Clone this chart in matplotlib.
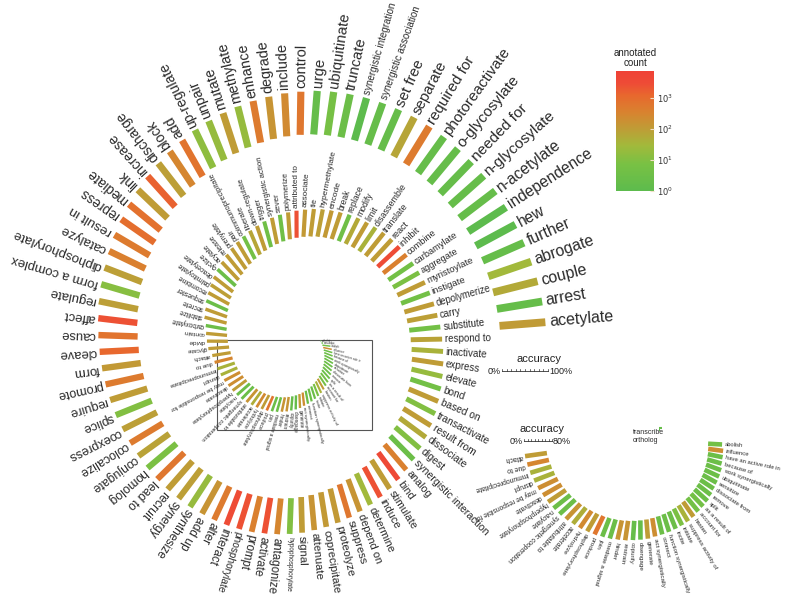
import numpy as np
import matplotlib.pyplot as plt
from matplotlib.colors import LinearSegmentedColormap, LogNorm
from matplotlib.cm import ScalarMappable
from matplotlib.patches import Rectangle

plt.rcParams['font.family'] = ['Liberation Sans', 'DejaVu Sans']

W, H = 796, 595
PT = 0.72  # points per pixel at dpi 100

# ---- outer turn of the spiral (sorted by accuracy, then name) ----
outer_labels = ['acetylate', 'arrest', 'couple', 'abrogate', 'further', 'hew', 'independence',
                'n-acetylate', 'n-glycosylate', 'needed for', 'o-glycosylate', 'photoreactivate',
                'required for', 'separate', 'set free', 'synergistic association',
                'synergistic integration', 'truncate', 'ubiquitinate', 'urge',
                'control', 'include', 'degrade', 'enhance', 'methylate', 'mutate', 'unpair',
                'up-regulate', 'add', 'block', 'discharge', 'increase', 'link', 'mediate',
                'repress', 'result in', 'catalyze', 'diphosphorylate', 'form a complex', 'regulate',
                'affect', 'cause', 'cleave', 'form', 'promote', 'require', 'splice', 'coexpress',
                'colocalize', 'conjugate', 'homolog', 'lead to', 'recruit', 'synergy', 'synthesize',
                'add up', 'alter', 'interact', 'phosphorylate', 'prompt',
                'activate', 'antagonize', 'hypophosphorylate', 'signal', 'attenuate',
                'coprecipitate', 'proteolyze', 'suppress', 'depend on', 'determine', 'induce',
                'stimulate', 'bind', 'analog', 'synergistic interaction', 'digest', 'dissociate',
                'result from', 'transactivate', 'based on',
                'bond', 'elevate', 'express', 'inactivate', 'respond to', 'substitute']
outer_acc = ([100] * 3 + [99] * 17 + [98] * 2 + [97] * 6 + [96] * 8 + [95] * 4 + [94] * 7 +
             [93] * 8 + [92] * 5 + [91] * 4 + [90] * 4 + [89] * 4 + [88.5] + [88] * 2 +
             [87] * 4 + [86] * 7)
outer_count = [110, 2, 60, 30, 2, 1, 1, 2, 2, 2, 2, 2, 500, 70, 2, 2, 1, 3, 6, 2,
               600, 250, 150, 500, 20, 100, 20, 15, 700, 300, 90, 1500, 100, 800, 900, 500, 400, 90, 12, 90,
               2500, 700, 1200, 120, 500, 100, 10, 90, 500, 80, 8, 600, 100, 90, 20, 150, 500, 3000, 2500, 400,
               2500, 300, 10, 100, 150, 120, 120, 600, 150, 30, 2500, 100, 3500, 400, 3, 10, 60, 100, 10, 100,
               5, 20, 100, 40, 80, 5]

# ---- second turn, upper half ----
second_labels = ['carry', 'depolymerize', 'instigate', 'myristoylate', 'aggregate', 'carbamylate',
                 'combine', 'inhibit', 'react', 'translate', 'disassemble', 'limit', 'modify',
                 'replace', 'break', 'encode', 'hypermethylate', 'tie', 'associate', 'attributed to',
                 'polymerize', 'sever', 'synergistic action', 'trigger', 'down-regulate', 'liberate',
                 'coimmunoprecipitate', 'pair', 'prenylate',
                 # left side, too small to read in the original
                 'release', 'acylate', 'cyclize', 'deacetylate', 'palmitoylate', 'recombine',
                 'sequester', 'secrete', 'stabilize', 'carboxylate', 'contain', 'divide', 'glycate']
second_acc = ([85] * 4 + [84] * 6 + [83] * 4 + [82] * 4 + [81] * 6 + [80] * 2 + [79] * 4 +
              [78] * 3 + [77] * 3 + [75] * 2 + [70] * 4)
second_count = [90, 100, 5, 100, 8, 5, 400, 3000, 100, 100, 40, 100, 60, 4, 100, 120, 90, 100,
                120, 2500, 100, 4, 100, 4, 100, 70, 5, 100, 100,
                100, 100, 3, 100, 90, 100, 3, 100, 100, 3, 100, 100, 100]

# ---- second turn, lower half (shown magnified in the inset) ----
inset_labels = ['attach', 'due to', 'immunoprecipitate', 'disrupt', 'may be responsible for',
                'deactivate', 'hyperphosphorylate', 'n-acylate', 'synergetic cooperation',
                'attributable to', 'accelerate', 'hydrolyze', 'dephosphorylate', 'produce', 'join',
                'mediate a signal', 'hinder', 'restrain', 'copurify', 'disengage', 'generate',
                'act synergistically', 'connect', 'function synergistically', 'incite', 'initiate',
                'suppress activity of', 'hasten', 'account for', 'as a result of', 'split', 'remove',
                'dissociate from', 'sensitize', 'ubiquitinate', 'work synergistically', 'because of',
                'have an active role in', 'influence', 'abolish']
inset_acc = ([63] * 3 + [62] * 2 + [61] * 4 + [60] + [59] * 2 + [58] * 2 + [57] * 2 + [56] * 2 +
             [55] * 3 + [53] * 6 + [52] + [50] * 3 + [48] + [46] * 4 + [43] * 3 + [40])
inset_count = [100, 300, 40, 40, 200, 200, 100, 3, 3, 150, 50, 250, 100, 600, 3, 3, 150, 150,
               2, 2, 100, 200, 3, 3, 3, 8, 40, 100, 5, 5, 3, 3, 3, 3, 3, 3, 3, 3, 200, 5]

core_labels = ['transcribe', 'ortholog']
core_acc = [8, 4]
core_count = [2, 1]

# ---- colour scale for the annotated count ----
cmap = LinearSegmentedColormap.from_list('count', [
    (0.0, '#5dbb4d'), (0.22, '#78c144'), (0.38, '#a2b93b'), (0.52, '#bf9c36'),
    (0.66, '#d9822f'), (0.80, '#e8672e'), (0.90, '#ee4b36'), (1.0, '#ef4136')])
norm = LogNorm(vmin=1, vmax=7500)

fig = plt.figure(figsize=(W / 100, H / 100), dpi=100)
ax = fig.add_axes([0, 0, 1, 1])
ax.set_xlim(0, W)
ax.set_ylim(H, 0)
ax.axis('off')


def put_item(cx, cy, ky, r, th, length, lw, fs, gap, count, label):
    t = np.radians(th)
    bx, by = cx + r * np.cos(t), cy - ky * r * np.sin(t)
    phi = np.arctan2(ky * np.sin(t), np.cos(t))
    c, s = np.cos(phi), np.sin(phi)
    ax.plot([bx, bx + length * c], [by, by - length * s],
            color=cmap(norm(count)), lw=lw, solid_capstyle='butt')
    d = length + gap
    ax.text(bx + d * c, by - d * s, label, rotation=np.degrees(phi) % 360,
            rotation_mode='anchor', ha='left', va='center', fontsize=fs, color='#2a2a2a')


# main spiral: archimedean, a bit taller than wide
CX, CY, KY = 297, 342, 1.14
R0, TH0, STEP, SHRINK = 203, 4.0, 4.25, 0.25
all_labels = outer_labels + second_labels + inset_labels + core_labels
all_acc = outer_acc + second_acc + inset_acc + core_acc
all_count = outer_count + second_count + inset_count + core_count
for i, (lab, a, n) in enumerate(zip(all_labels, all_acc, all_count)):
    th = TH0 + i * STEP
    r = R0 - SHRINK * (th - TH0)
    f = r / R0
    put_item(CX, CY, KY, r, th, a / 100 * 46 * f ** 0.4, 7.8 * f ** 0.8 * PT,
             16 * f ** 0.85 * PT, 4 * f ** 0.7, n, lab)

# zoom box around the centre
ax.add_patch(Rectangle((217, 340), 155, 90, fill=False, ec='#555555', lw=0.8))

# inset: lower half of the second turn, magnified
CXI, CYI = 640, 440
RI, THI, STEPI, DECAYI = 94, 188, 4.33, 0.0019
for j, (lab, a, n) in enumerate(zip(inset_labels, inset_acc, inset_count)):
    th = THI + j * STEPI
    f = np.exp(-DECAYI * (th - THI))
    put_item(CXI, CYI, 1.0, RI * f, th, a / 100 * 35, 4.6 * PT, 6.8 * f ** 0.5 * PT, 2.5, n, lab)
for k, (lab, a, n) in enumerate(zip(core_labels, core_acc, core_count)):
    ax.plot([CXI + 19, CXI + 19 + a * 0.35], [CYI - 12 + 2 * k, CYI - 12 + 2 * k],
            color=cmap(norm(n)), lw=1.5, solid_capstyle='butt')
    ax.text(CXI - 7, CYI - 8 + 9 * k, lab, ha='left', va='center', fontsize=5, color='#2a2a2a')


def acc_scale(x0, y0, px_per_pct, top, top_label, shift):
    length = px_per_pct * top
    ax.plot([x0, x0 + length], [y0, y0], color='#333333', lw=0.6)
    for t in np.arange(0, top + 1, 10):
        ax.plot([x0 + t * px_per_pct] * 2, [y0, y0 - 2], color='#333333', lw=0.5)
    ax.text(x0 - 1, y0, '0%', ha='right', va='center', fontsize=6.5, color='#222222')
    ax.text(x0 + length + 1, y0, top_label, ha='left', va='center', fontsize=6.5, color='#222222')
    ax.text(x0 + length / 2 + shift, y0 - 12, 'accuracy', ha='center', va='center', fontsize=8,
            color='#222222')


acc_scale(502, 371, 0.46, 100, '100%', 14)
acc_scale(524, 441, 0.35, 80, '80%', 4)

# colour bar
cax = fig.add_axes([616 / W, 1 - 191 / H, 38 / W, 120 / H])
cb = fig.colorbar(ScalarMappable(norm=norm, cmap=cmap), cax=cax)
cb.outline.set_visible(False)
cb.set_ticks([1, 10, 100, 1000])
cb.set_ticklabels([r'$10^0$', r'$10^1$', r'$10^2$', r'$10^3$'])
cax.minorticks_off()
cax.tick_params(direction='in', length=3, width=0.8, colors='#f3e0c8', labelcolor='#333333',
                labelsize=6, pad=2)
fig.text(635 / W, 1 - 58 / H, 'annotated\ncount', ha='center', va='center', fontsize=7,
         linespacing=1.0, color='#222222')

# shrink the few long labels that would run off the page edge
renderer = fig.canvas.get_renderer()
for txt in ax.texts:
    for _ in range(20):
        bb = txt.get_window_extent(renderer)
        if bb.x0 >= 1 and bb.y0 >= 1 and bb.x1 <= W - 1 and bb.y1 <= H - 1:
            break
        txt.set_fontsize(txt.get_fontsize() * 0.95)

fig.savefig('out.png', dpi=100)
